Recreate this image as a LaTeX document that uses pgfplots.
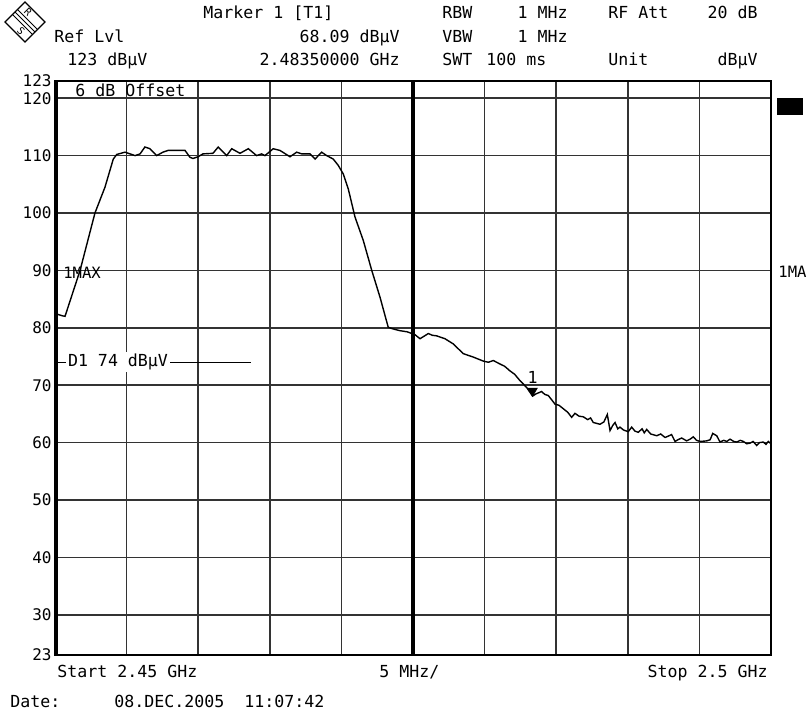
\documentclass[border=0pt]{standalone}
\usepackage{fontspec}
\setmainfont{DejaVu Sans Mono}
\usepackage{pgfplots}
\pgfplotsset{compat=1.18}

% trace 1 (max hold), frequency in MHz, level in dBuV
\pgfplotstableread{
f lvl
2450.00 82.5
2450.12 82.4
2450.50 82.1
2450.70 82.0
2451.75 90.0
2452.79 100.0
2453.49 104.5
2454.07 109.4
2454.31 110.2
2454.89 110.6
2455.24 110.3
2455.59 110.0
2455.94 110.3
2456.28 111.5
2456.63 111.2
2457.10 110.0
2457.54 110.6
2457.89 110.9
2459.08 110.9
2459.43 109.7
2459.64 109.5
2459.99 109.8
2460.33 110.3
2461.03 110.4
2461.40 111.5
2461.99 110.0
2462.34 111.2
2462.92 110.4
2463.50 111.2
2464.08 110.0
2464.43 110.3
2464.66 110.0
2465.24 111.2
2465.71 110.9
2466.41 109.8
2466.88 110.6
2467.23 110.3
2467.81 110.3
2468.16 109.4
2468.62 110.6
2468.97 110.0
2469.43 109.4
2469.78 108.3
2470.13 106.8
2470.48 104.2
2470.95 99.3
2471.53 95.2
2472.12 90.0
2472.70 85.3
2473.27 80.1
2473.62 79.8
2474.09 79.5
2474.60 79.3
2475.14 78.8
2475.49 78.1
2476.07 79.0
2476.35 78.7
2476.65 78.6
2477.23 78.1
2477.81 77.2
2478.51 75.5
2479.21 74.9
2479.91 74.2
2480.26 74.0
2480.61 74.3
2481.07 73.7
2481.40 73.3
2481.77 72.5
2482.10 71.9
2482.47 70.8
2482.94 69.6
2483.35 68.1
2483.60 68.5
2483.98 68.9
2484.20 68.4
2484.45 68.2
2484.92 66.7
2485.20 66.5
2485.50 65.9
2485.80 65.3
2486.08 64.4
2486.31 65.1
2486.60 64.6
2486.89 64.5
2487.20 64.0
2487.40 64.3
2487.59 63.5
2488.06 63.2
2488.33 63.6
2488.57 64.9
2488.76 62.1
2488.95 63.0
2489.11 63.5
2489.30 62.4
2489.45 62.7
2489.70 62.2
2490.03 61.9
2490.27 62.7
2490.50 62.0
2490.73 61.8
2491.00 62.4
2491.15 61.7
2491.32 62.3
2491.60 61.5
2492.02 61.2
2492.30 61.5
2492.60 60.9
2492.80 61.1
2493.06 61.4
2493.30 60.2
2493.50 60.5
2493.76 60.8
2494.11 60.3
2494.35 60.6
2494.57 61.0
2494.80 60.4
2495.04 60.2
2495.51 60.3
2495.75 60.5
2495.93 61.6
2496.21 61.2
2496.44 60.1
2496.70 60.4
2496.91 60.2
2497.14 60.6
2497.40 60.2
2497.61 60.1
2497.85 60.4
2498.08 60.2
2498.30 59.8
2498.53 59.9
2498.75 60.2
2499.00 59.5
2499.20 60.0
2499.46 60.1
2499.65 59.7
2499.81 60.2
2500.00 59.8
}\trace

\begin{document}
\begin{tikzpicture}[font=\fontsize{8.3}{10}\selectfont]
% page frame (808 x 716 px at 0.5pt per px)
\path[use as bounding box] (-27.5pt,-30.5pt) rectangle (376.5pt,327.5pt);

\begin{axis}[
  at={(0pt,0pt)}, anchor=south west,
  scale only axis, width=358pt, height=287pt,
  xmin=2450, xmax=2500, ymin=23, ymax=123,
  xtick={2450,2455,...,2500}, xticklabels={},
  ytick={23,30,40,50,60,70,80,90,100,110,120,123},
  grid=major,
  major grid style={black!80, line width=0.8pt},
  major tick length=0pt,
  axis line style={line width=1.3pt},
  /pgf/number format/assume math mode=true,
  yticklabel style={font=\fontsize{8}{9}\selectfont, inner sep=1.5pt},
]
  \draw[line width=1.6pt] (axis cs:2475,23) -- (axis cs:2475,123);
  \draw[line width=2.6pt] (axis cs:2450,23) -- (axis cs:2450,123);
  \draw[line width=0.6pt] (axis cs:2450,74) -- (axis cs:2463.7,74);
  \node[fill=white, inner sep=1pt] at (axis cs:2454.4,74) {D1 74 dBµV};
  \node[anchor=west, inner sep=0pt, font=\fontsize{7.8}{9}\selectfont]
    at (axis cs:2450.55,89.5) {1MAX};
  \addplot[black, line width=0.7pt, mark=none] table[x=f, y=lvl] {\trace};
  \addplot[only marks, mark=triangle*, mark size=2.6pt,
    mark options={yshift=2.6pt, rotate=180, fill=black}]
    coordinates {(2483.35,68.09)};
  \node at (axis cs:2483.35,68.09) [yshift=9.5pt, inner sep=0pt] {1};
\end{axis}

% annotations in pixel units of the screenshot (y down)
\begin{scope}[x=0.5pt, y=-0.5pt, shift={(-27.5pt,327.5pt)},
  every node/.style={inner sep=0pt}]
  % R&S logo
  \draw[line width=0.6pt] (25,2) -- (45,22) -- (25,42) -- (5,22) -- cycle;
  \foreach \o in {-2.5,0,2.5}
    \draw[line width=0.5pt] ({15+\o},{12-\o}) -- ({35+\o},{32-\o});
  \node[font=\fontsize{5}{5}\selectfont, rotate=-45] at (28,12) {R};
  \node[font=\fontsize{5}{5}\selectfont, rotate=-45] at (21,31) {S};
  % header, row 1
  \node[anchor=base west] at (203,19) {Marker 1 [T1]};
  \node[anchor=base west] at (442,19) {RBW};
  \node[anchor=base east] at (568,19) {1 MHz};
  \node[anchor=base west] at (608,19) {RF Att};
  \node[anchor=base east] at (758,19) {20 dB};
  % row 2
  \node[anchor=base west] at (54,43) {Ref Lvl};
  \node[anchor=base east] at (400,43) {68.09 dBµV};
  \node[anchor=base west] at (442,43) {VBW};
  \node[anchor=base east] at (568,43) {1 MHz};
  % row 3
  \node[anchor=base west] at (67,66) {123 dBµV};
  \node[anchor=base east] at (400,66) {2.48350000 GHz};
  \node[anchor=base west] at (442,66) {SWT};
  \node[anchor=base west] at (486,66) {100 ms};
  \node[anchor=base west] at (608,66) {Unit};
  \node[anchor=base east] at (758,66) {dBµV};
  % inside / right of grid
  \node[anchor=base west] at (75,97) {6 dB Offset};
  \fill (777,98) rectangle (803,115);
  \node[anchor=west, font=\fontsize{7.8}{9}\selectfont] at (778,272) {1MA};
  % footer
  \node[anchor=base west] at (57,678) {Start 2.45 GHz};
  \node[anchor=base west] at (379,678) {5 MHz/};
  \node[anchor=base east] at (768,678) {Stop 2.5 GHz};
  \node[anchor=base west] at (10,708) {Date:};
  \node[anchor=base west] at (114,708) {08.DEC.2005~~11:07:42};
\end{scope}
\end{tikzpicture}
\end{document}
